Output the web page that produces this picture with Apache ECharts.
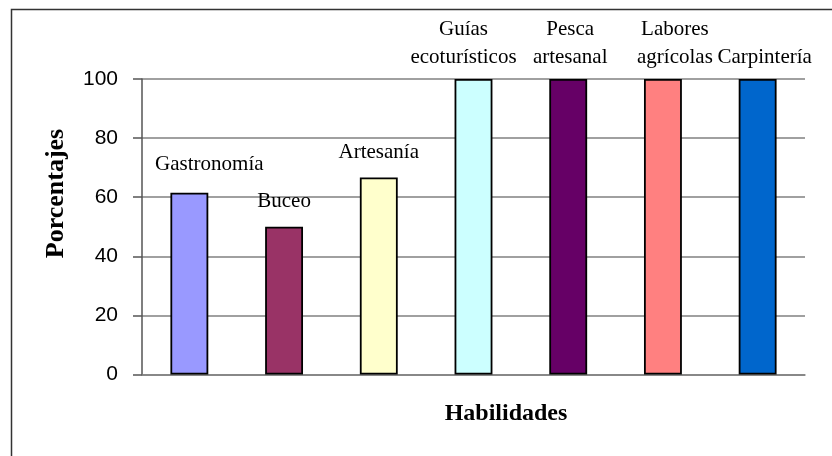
<!DOCTYPE html>
<html>
<head>
<meta charset="utf-8">
<script src="https://cdn.jsdelivr.net/npm/echarts@6/dist/echarts.min.js"></script>
<style>
html,body{margin:0;padding:0;background:#fff;}
#chart{width:832px;height:456px;}
</style>
</head>
<body>
<div id="chart"></div>
<script>
// Data
const categories = ['Gastronomía', 'Buceo', 'Artesanía', 'Guías\necoturísticos', 'Pesca\nartesanal', 'Labores\nagrícolas', 'Carpintería'];
const values = [61.5, 50, 66.7, 100, 100, 100, 100];
const colors = ['#9999FF', '#993366', '#FFFFCC', '#CCFFFF', '#660066', '#FF8080', '#0066CC'];
const yTicks = [0, 20, 40, 60, 80, 100];
const yTitle = 'Porcentajes';
const xTitle = 'Habilidades';
// label nudges (style only, as Excel rearranged the labels)
const labelOffsets = [[20, -3], [0, 0], [0, 0], [-10, 3], [2, 3], [12, 3], [7, 3]];

const chart = echarts.init(document.getElementById('chart'));
const serif = '"Liberation Serif", "Times New Roman", serif';
const sans = '"Liberation Sans", Arial, sans-serif';

const option = {
  animation: false,
  backgroundColor: '#fff',
  grid: { left: 142, right: 27, top: 79, bottom: 81.5, containLabel: false },
  xAxis: {
    type: 'category',
    data: categories,
    axisLine: { show: true, lineStyle: { color: '#808080', width: 1.5 } },
    axisTick: { show: false },
    axisLabel: { show: false },
    splitLine: { show: false }
  },
  yAxis: {
    type: 'value',
    min: yTicks[0],
    max: yTicks[yTicks.length - 1],
    interval: 20,
    axisLine: { show: true, lineStyle: { color: '#555', width: 1.5 } },
    axisTick: { show: true, inside: false, length: 9, lineStyle: { color: '#555', width: 1.5 } },
    axisLabel: { margin: 24, fontFamily: sans, fontSize: 21, color: '#000' },
    splitLine: { show: true, lineStyle: { color: '#808080', width: 1.5 } }
  },
  series: [{
    type: 'bar',
    barWidth: '40%',
    data: values.map((v, i) => ({
      value: v,
      itemStyle: { color: colors[i] },
      label: { offset: labelOffsets[i] }
    })),
    itemStyle: { borderColor: '#000', borderWidth: 1.8 },
    label: {
      show: true,
      position: 'top',
      distance: 11,
      formatter: p => categories[p.dataIndex],
      fontFamily: serif,
      fontSize: 21,
      lineHeight: 28,
      color: '#000',
      align: 'center'
    }
  }],
  graphic: [
    {
      type: 'rect',
      shape: { x: 11.5, y: 9.5, width: 900, height: 600 },
      style: { fill: null, stroke: '#333', lineWidth: 1.5 },
      silent: true, z: -1
    },
    {
      type: 'text',
      x: 56, y: 193.5,
      rotation: Math.PI / 2,
      style: { text: yTitle, x: 0, y: 0, align: 'center', verticalAlign: 'middle', font: 'bold 26px ' + serif, fill: '#000' }
    },
    {
      type: 'text',
      x: 506, y: 414,
      style: { text: xTitle, x: 0, y: 0, align: 'center', verticalAlign: 'middle', font: 'bold 24px ' + serif, fill: '#000' }
    }
  ]
};
chart.setOption(option);
</script>
</body>
</html>
